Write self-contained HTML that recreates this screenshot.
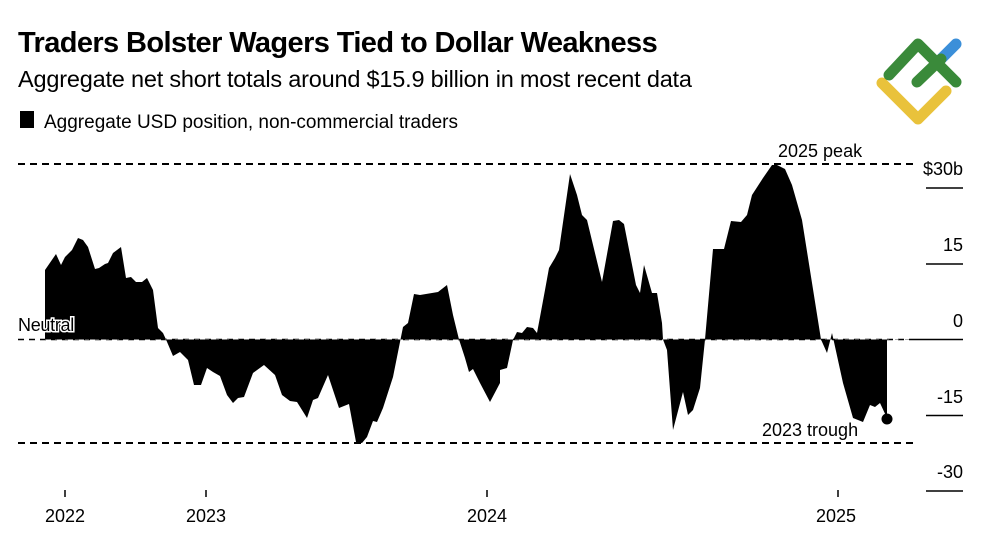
<!DOCTYPE html>
<html><head><meta charset="utf-8"><style>
body{margin:0;background:#fff;width:1000px;height:545px;overflow:hidden;font-family:"Liberation Sans",Arial,sans-serif;}
</style></head><body>
<svg width="1000" height="545" viewBox="0 0 1000 545" xmlns="http://www.w3.org/2000/svg" font-family="Liberation Sans, Arial, sans-serif">
<text x="18" y="52" font-size="29" font-weight="bold" letter-spacing="-0.6">Traders Bolster Wagers Tied to Dollar Weakness</text>
<text x="18" y="87" font-size="23.5" letter-spacing="-0.2">Aggregate net short totals around $15.9 billion in most recent data</text>
<rect x="20" y="111" width="14" height="17" fill="#000"/>
<text x="44" y="128" font-size="19">Aggregate USD position, non-commercial traders</text>
<!-- logo -->
<g stroke-linecap="round" stroke-linejoin="round" fill="none" stroke-width="11">
<path d="M882 83 L918 119 L946 91" stroke="#e9c23b"/>
<path d="M940 60 L956 44" stroke="#3b8fd9"/>
<path d="M889 75 L918 44 L956 82" stroke="#3a8a3a"/>
<path d="M917 82 L941 59" stroke="#3a8a3a"/>
</g>
<!-- area -->
<path fill="#000" d="M45,339.5 L45,270 L56,254 L61,265 L65,257 L72,250 L78,238 L83,240 L88,247 L95,269 L99,268 L105,264 L108,263 L113,253 L121,247 L126,278 L131,277 L136,282 L142,282 L147,278 L153,290 L158,328 L163,333 L166,339.5 L173,356 L180,352 L188,360 L194,385 L201,385 L207,368 L213,372 L220,376 L227,395 L233,403 L238,398 L244,397 L253,373 L264,365 L275,375 L282,395 L290,401 L297,402 L307,418 L313,400 L318,398 L328,375 L339,408 L349,404 L356,442 L362,443 L367,437 L373,421 L377,422 L383,408 L393,377 L400,342 L403,327 L408,323 L414,294 L420,295 L432,293 L438,292 L447,285 L453,315 L459,339.5 L465,358 L469,372 L473,369 L480,383 L490,402 L500,383 L500,370 L507,368 L513,340 L517,332 L522,333 L527,327 L533,328 L537,333 L540,317 L545,290 L549,268 L555,258 L559,250 L570,174 L577,195 L582,215 L587,220 L602,282 L613,221 L619,220 L624,224 L636,285 L640,293 L644,265 L652,293 L657,293 L662,323 L663,339.5 L667,350 L673,430 L683,392 L688,415 L693,410 L700,388 L705,339.5 L713,249 L724,249 L731,221 L741,222 L747,215 L752,195 L763,178 L772,165 L777,165 L785,169 L792,185 L802,220 L821,339.5 L827,353 L832,333 L834,342 L843,383 L853,418 L863,422 L870,405 L875,407 L880,403 L887,418 L887,339.5 Z"/>
<circle cx="887" cy="419" r="5.5" fill="#000"/>
<!-- dashed lines -->
<g stroke="#000" stroke-width="2" stroke-dasharray="7,5">
<line x1="18" y1="164" x2="915" y2="164"/>
<line x1="18" y1="443" x2="915" y2="443"/>
</g>
<line x1="18" y1="339.5" x2="915" y2="339.5" stroke="#000" stroke-width="1.5" stroke-dasharray="6,5"/>
<line x1="45" y1="339.5" x2="915" y2="339.5" stroke="#777" stroke-width="1" stroke-dasharray="4,6" opacity="0.6"/>
<line x1="915" y1="339.5" x2="963" y2="339.5" stroke="#000" stroke-width="1.5"/>
<g stroke="#000" stroke-width="1.5">
<line x1="926" y1="188" x2="963" y2="188"/>
<line x1="926" y1="264" x2="963" y2="264"/>
<line x1="926" y1="415.5" x2="963" y2="415.5"/>
<line x1="926" y1="491" x2="963" y2="491"/>
<line x1="65" y1="490" x2="65" y2="497"/>
<line x1="206" y1="490" x2="206" y2="497"/>
<line x1="487" y1="490" x2="487" y2="497"/>
<line x1="838" y1="490" x2="838" y2="497"/>
</g>
<text x="18" y="331" font-size="18" fill="#000" stroke="#fff" stroke-width="3" paint-order="stroke" letter-spacing="-0.3">Neutral</text>
<text x="778" y="157" font-size="18" fill="#000" stroke="#fff" stroke-width="3" paint-order="stroke">2025 peak</text>
<text x="762" y="436" font-size="18" fill="#000" stroke="#fff" stroke-width="3" paint-order="stroke">2023 trough</text>
<g font-size="18" text-anchor="end">
<text x="963" y="175">$30b</text>
<text x="963" y="251">15</text>
<text x="963" y="327">0</text>
<text x="963" y="403">-15</text>
<text x="963" y="478">-30</text>
</g>
<g font-size="18" text-anchor="middle">
<text x="65" y="522">2022</text>
<text x="206" y="522">2023</text>
<text x="487" y="522">2024</text>
<text x="836" y="522">2025</text>
</g>
</svg>
</body></html>
